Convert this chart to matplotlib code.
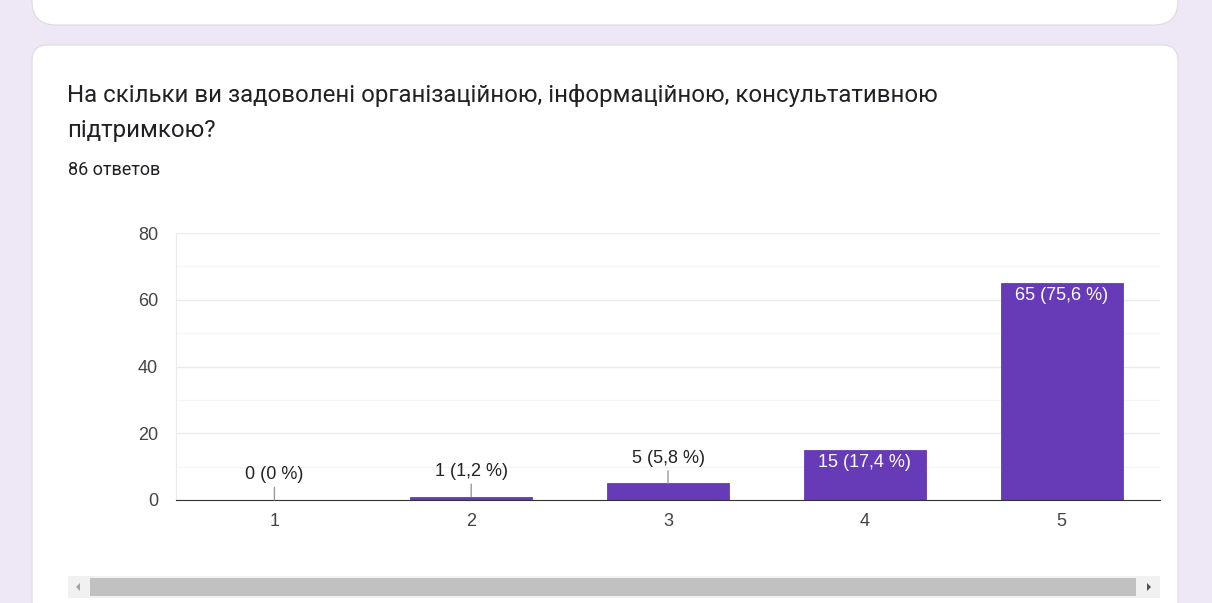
import matplotlib
matplotlib.use("Agg")
import matplotlib.pyplot as plt
from matplotlib.patches import FancyBboxPatch, Rectangle, Polygon

# data
categories = ["1", "2", "3", "4", "5"]
counts = [0, 1, 5, 15, 65]
percents = ["0", "1,2", "5,8", "17,4", "75,6"]
y_ticks = [0, 20, 40, 60, 80]

title_lines = ["На скільки ви задоволені організаційною, інформаційною, консультативною",
               "підтримкою?"]
subtitle = "86 ответов"

W, H = 1212, 603
bg = "#ede7f6"
bar_color = "#673ab7"


def fx(px):
    return px / W


def fy(py):
    # py measured from top of the picture
    return 1 - py / H


fig = plt.figure(figsize=(W / 100, H / 100), dpi=100, facecolor=bg)

# page cards
top_card = FancyBboxPatch((fx(32), fy(25)), fx(1178) - fx(32), 0.2,
                          boxstyle="round,pad=0,rounding_size=0.02",
                          transform=fig.transFigure, facecolor="white",
                          edgecolor="#dadce0", linewidth=0.8, mutation_aspect=2.0)
fig.patches.append(top_card)
card = FancyBboxPatch((fx(32), -0.1), fx(1178) - fx(32), fy(45) + 0.1,
                      boxstyle="round,pad=0,rounding_size=0.013",
                      transform=fig.transFigure, facecolor="white",
                      edgecolor="#dadce0", linewidth=0.8, mutation_aspect=2.0)
fig.patches.append(card)

fig.text(fx(67), fy(102), title_lines[0], fontsize=17.3, family="Roboto",
         color="#202124", va="baseline", zorder=3)
fig.text(fx(67), fy(137), title_lines[1], fontsize=17.3, family="Roboto",
         color="#202124", va="baseline", zorder=3)
fig.text(fx(68), fy(175), subtitle, fontsize=13, family="Roboto", color="#202124",
         va="baseline", zorder=3)

# chart
ax = fig.add_axes([fx(176), fy(500), fx(1160) - fx(176), fy(233) - fy(500)])
ax.set_zorder(3)
ax.set_facecolor("white")
x = list(range(len(categories)))
edge = ["#9e9e9e" if c == 0 else bar_color for c in counts]
ax.bar(x, counts, width=0.62, color=bar_color, edgecolor=edge, linewidth=0.6, zorder=3)
ax.set_xlim(-0.5, len(categories) - 0.5)
ax.set_ylim(0, 80)
ax.set_xticks(x)
ax.set_xticklabels(categories)
ax.set_yticks(y_ticks)
ax.set_yticks([10, 30, 50, 70], minor=True)
ax.grid(axis="y", which="major", color="#ebebeb", linewidth=1, zorder=0)
ax.grid(axis="y", which="minor", color="#f5f5f5", linewidth=1, zorder=0)
for side in ["top", "right"]:
    ax.spines[side].set_visible(False)
ax.spines["left"].set_color("#ebebeb")
ax.spines["bottom"].set_color("#333333")
ax.spines["bottom"].set_zorder(4)
ax.tick_params(axis="both", which="both", length=0, labelsize=13, labelcolor="#444444")
ax.tick_params(axis="y", pad=13)
ax.tick_params(axis="x", pad=9)
for lbl in ax.get_xticklabels() + ax.get_yticklabels():
    lbl.set_family("Liberation Sans")

for xi, c, p in zip(x, counts, percents):
    label = f"{c} ({p} %)"
    if c >= 10:
        ax.annotate(label, (xi, c), xytext=(0, -3), textcoords="offset points",
                    ha="center", va="top", fontsize=13, color="white",
                    family="Liberation Sans", zorder=5)
    else:
        ax.annotate(label, (xi, c), xytext=(0, 12), textcoords="offset points",
                    ha="center", va="bottom", fontsize=13, color="#222222",
                    family="Liberation Sans", zorder=5,
                    arrowprops=dict(arrowstyle="-", color="#999999", lw=1,
                                    shrinkA=1, shrinkB=0))

# horizontal scrollbar under the chart
fig.patches.append(Rectangle((fx(68), fy(598)), fx(1160) - fx(68), fy(576) - fy(598),
                             transform=fig.transFigure, facecolor="#f1f1f1",
                             edgecolor="none", zorder=2))
fig.patches.append(Rectangle((fx(90), fy(596)), fx(1136) - fx(90), fy(578) - fy(596),
                             transform=fig.transFigure, facecolor="#c1c1c1",
                             edgecolor="none", zorder=2))
fig.patches.append(Polygon([(fx(76), fy(587)), (fx(80), fy(583)), (fx(80), fy(591))],
                           closed=True, transform=fig.transFigure, facecolor="#a3a3a3",
                           zorder=2))
fig.patches.append(Polygon([(fx(1147), fy(583)), (fx(1147), fy(591)), (fx(1151), fy(587))],
                           closed=True, transform=fig.transFigure, facecolor="#505050",
                           zorder=2))

fig.savefig("out.png", dpi=100, facecolor=bg)
